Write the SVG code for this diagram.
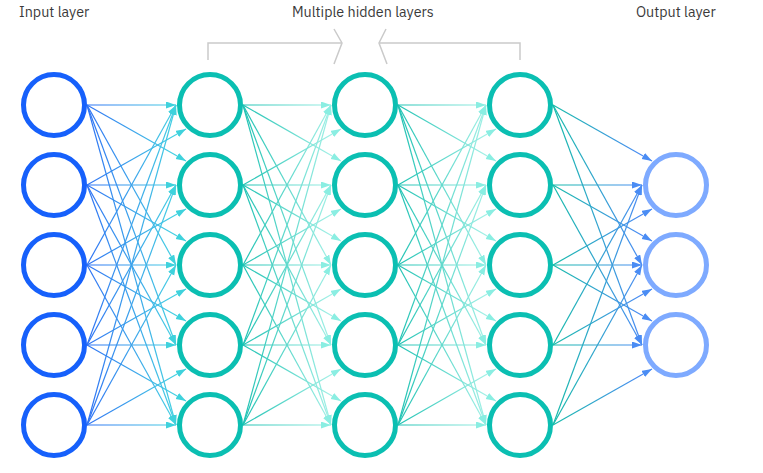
<svg xmlns="http://www.w3.org/2000/svg" width="763" height="473" viewBox="0 0 763 473">
<style>
.lbl{font-family:"IBM Plex Sans","Noto Sans","Liberation Sans",sans-serif;font-size:14.3px;fill:#3a3a3a}
.br{fill:none;stroke:#cacaca;stroke-width:1.5}
.n{fill:#fff;stroke-width:5}
.in{stroke:#1660fb}
.hd{stroke:#0bbfb2}
.out{stroke:#7eaaff}
.l1 line{stroke:url(#g1);marker-end:url(#a1)}
.l2 line{stroke:url(#g2);marker-end:url(#a2)}
.l3 line{stroke:url(#g3);marker-end:url(#a3)}
.l4 line{stroke:url(#g4);marker-end:url(#a4)}
line{stroke-width:1.2;fill:none}
</style>
<defs>
<linearGradient id="g1" gradientUnits="userSpaceOnUse" x1="87" y1="0" x2="176" y2="0"><stop offset="0" stop-color="#2f72f4"/><stop offset="1" stop-color="#45d2e2"/></linearGradient>
<linearGradient id="g2" gradientUnits="userSpaceOnUse" x1="243" y1="0" x2="331" y2="0"><stop offset="0" stop-color="#1fc2b3"/><stop offset="1" stop-color="#a2f0e6"/></linearGradient>
<linearGradient id="g3" gradientUnits="userSpaceOnUse" x1="398" y1="0" x2="486" y2="0"><stop offset="0" stop-color="#1fc2b3"/><stop offset="1" stop-color="#a2f0e6"/></linearGradient>
<linearGradient id="g4" gradientUnits="userSpaceOnUse" x1="553" y1="0" x2="642" y2="0"><stop offset="0" stop-color="#17bcaa"/><stop offset="1" stop-color="#4a8af4"/></linearGradient>
<marker id="a1" markerUnits="userSpaceOnUse" markerWidth="10" markerHeight="8" refX="10" refY="3.5" orient="auto"><path d="M0,0 L10,3.5 L0,7 Z" fill="#3fd2dc"/></marker>
<marker id="a2" markerUnits="userSpaceOnUse" markerWidth="10" markerHeight="8" refX="10" refY="3.5" orient="auto"><path d="M0,0 L10,3.5 L0,7 Z" fill="#8aeee2"/></marker>
<marker id="a3" markerUnits="userSpaceOnUse" markerWidth="10" markerHeight="8" refX="10" refY="3.5" orient="auto"><path d="M0,0 L10,3.5 L0,7 Z" fill="#8aeee2"/></marker>
<marker id="a4" markerUnits="userSpaceOnUse" markerWidth="10" markerHeight="8" refX="10" refY="3.5" orient="auto"><path d="M0,0 L10,3.5 L0,7 Z" fill="#4a8cf4"/></marker>
</defs>
<rect width="763" height="473" fill="#fff"/>
<g id="labels">
<text class="lbl" x="19" y="17">Input layer</text>
<text class="lbl" x="292" y="17">Multiple hidden layers</text>
<text class="lbl" x="636" y="17">Output layer</text>
</g>
<g id="bracket">
<path class="br" d="M208,60 V43 H341 M334,29 L342,43 L334,64"/>
<path class="br" d="M520,60 V43 H380 M386,29 L379,43 L387,64"/>
</g>
<g id="connectors">
<g class="l1">
<line x1="87" y1="105" x2="176" y2="105"/><line x1="87" y1="105" x2="186" y2="161"/><line x1="87" y1="105" x2="176" y2="265"/><line x1="87" y1="105" x2="176" y2="345"/><line x1="87" y1="105" x2="176" y2="425"/>
<line x1="87" y1="185" x2="186" y2="129"/><line x1="87" y1="185" x2="176" y2="185"/><line x1="87" y1="185" x2="186" y2="241"/><line x1="87" y1="185" x2="176" y2="345"/><line x1="87" y1="185" x2="176" y2="425"/>
<line x1="87" y1="265" x2="176" y2="105"/><line x1="87" y1="265" x2="186" y2="209"/><line x1="87" y1="265" x2="176" y2="265"/><line x1="87" y1="265" x2="186" y2="321"/><line x1="87" y1="265" x2="176" y2="425"/>
<line x1="87" y1="345" x2="176" y2="105"/><line x1="87" y1="345" x2="176" y2="185"/><line x1="87" y1="345" x2="186" y2="289"/><line x1="87" y1="345" x2="176" y2="345"/><line x1="87" y1="345" x2="186" y2="401"/>
<line x1="87" y1="425" x2="176" y2="105"/><line x1="87" y1="425" x2="176" y2="185"/><line x1="87" y1="425" x2="176" y2="265"/><line x1="87" y1="425" x2="186" y2="369"/><line x1="87" y1="425" x2="176" y2="425"/>
</g>
<g class="l2">
<line x1="243" y1="105" x2="331" y2="105"/><line x1="243" y1="105" x2="341" y2="161"/><line x1="243" y1="105" x2="331" y2="265"/><line x1="243" y1="105" x2="331" y2="345"/><line x1="243" y1="105" x2="331" y2="425"/>
<line x1="243" y1="185" x2="341" y2="129"/><line x1="243" y1="185" x2="331" y2="185"/><line x1="243" y1="185" x2="341" y2="241"/><line x1="243" y1="185" x2="331" y2="345"/><line x1="243" y1="185" x2="331" y2="425"/>
<line x1="243" y1="265" x2="331" y2="105"/><line x1="243" y1="265" x2="341" y2="209"/><line x1="243" y1="265" x2="331" y2="265"/><line x1="243" y1="265" x2="341" y2="321"/><line x1="243" y1="265" x2="331" y2="425"/>
<line x1="243" y1="345" x2="331" y2="105"/><line x1="243" y1="345" x2="331" y2="185"/><line x1="243" y1="345" x2="341" y2="289"/><line x1="243" y1="345" x2="331" y2="345"/><line x1="243" y1="345" x2="341" y2="401"/>
<line x1="243" y1="425" x2="331" y2="105"/><line x1="243" y1="425" x2="331" y2="185"/><line x1="243" y1="425" x2="331" y2="265"/><line x1="243" y1="425" x2="341" y2="369"/><line x1="243" y1="425" x2="331" y2="425"/>
</g>
<g class="l3">
<line x1="398" y1="105" x2="486" y2="105"/><line x1="398" y1="105" x2="496" y2="161"/><line x1="398" y1="105" x2="486" y2="265"/><line x1="398" y1="105" x2="486" y2="345"/><line x1="398" y1="105" x2="486" y2="425"/>
<line x1="398" y1="185" x2="496" y2="129"/><line x1="398" y1="185" x2="486" y2="185"/><line x1="398" y1="185" x2="496" y2="241"/><line x1="398" y1="185" x2="486" y2="345"/><line x1="398" y1="185" x2="486" y2="425"/>
<line x1="398" y1="265" x2="486" y2="105"/><line x1="398" y1="265" x2="496" y2="209"/><line x1="398" y1="265" x2="486" y2="265"/><line x1="398" y1="265" x2="496" y2="321"/><line x1="398" y1="265" x2="486" y2="425"/>
<line x1="398" y1="345" x2="486" y2="105"/><line x1="398" y1="345" x2="486" y2="185"/><line x1="398" y1="345" x2="496" y2="289"/><line x1="398" y1="345" x2="486" y2="345"/><line x1="398" y1="345" x2="496" y2="401"/>
<line x1="398" y1="425" x2="486" y2="105"/><line x1="398" y1="425" x2="486" y2="185"/><line x1="398" y1="425" x2="486" y2="265"/><line x1="398" y1="425" x2="496" y2="369"/><line x1="398" y1="425" x2="486" y2="425"/>
</g>
<g class="l4">
<line x1="553" y1="105" x2="652" y2="161"/><line x1="553" y1="105" x2="642" y2="265"/><line x1="553" y1="105" x2="642" y2="345"/>
<line x1="553" y1="185" x2="642" y2="185"/><line x1="553" y1="185" x2="652" y2="241"/><line x1="553" y1="185" x2="642" y2="345"/>
<line x1="553" y1="265" x2="652" y2="209"/><line x1="553" y1="265" x2="642" y2="265"/><line x1="553" y1="265" x2="652" y2="321"/>
<line x1="553" y1="345" x2="642" y2="185"/><line x1="553" y1="345" x2="652" y2="289"/><line x1="553" y1="345" x2="642" y2="345"/>
<line x1="553" y1="425" x2="642" y2="185"/><line x1="553" y1="425" x2="642" y2="265"/><line x1="553" y1="425" x2="652" y2="369"/>
</g>
</g>
<g id="in1"><circle class="n in" cx="54" cy="105" r="30.5"/></g>
<g id="in2"><circle class="n in" cx="54" cy="185" r="30.5"/></g>
<g id="in3"><circle class="n in" cx="54" cy="265" r="30.5"/></g>
<g id="in4"><circle class="n in" cx="54" cy="345" r="30.5"/></g>
<g id="in5"><circle class="n in" cx="54" cy="425" r="30.5"/></g>
<g id="h1a"><circle class="n hd" cx="210" cy="105" r="30.5"/></g>
<g id="h1b"><circle class="n hd" cx="210" cy="185" r="30.5"/></g>
<g id="h1c"><circle class="n hd" cx="210" cy="265" r="30.5"/></g>
<g id="h1d"><circle class="n hd" cx="210" cy="345" r="30.5"/></g>
<g id="h1e"><circle class="n hd" cx="210" cy="425" r="30.5"/></g>
<g id="h2a"><circle class="n hd" cx="365" cy="105" r="30.5"/></g>
<g id="h2b"><circle class="n hd" cx="365" cy="185" r="30.5"/></g>
<g id="h2c"><circle class="n hd" cx="365" cy="265" r="30.5"/></g>
<g id="h2d"><circle class="n hd" cx="365" cy="345" r="30.5"/></g>
<g id="h2e"><circle class="n hd" cx="365" cy="425" r="30.5"/></g>
<g id="h3a"><circle class="n hd" cx="520" cy="105" r="30.5"/></g>
<g id="h3b"><circle class="n hd" cx="520" cy="185" r="30.5"/></g>
<g id="h3c"><circle class="n hd" cx="520" cy="265" r="30.5"/></g>
<g id="h3d"><circle class="n hd" cx="520" cy="345" r="30.5"/></g>
<g id="h3e"><circle class="n hd" cx="520" cy="425" r="30.5"/></g>
<g id="o1"><circle class="n out" cx="676" cy="185" r="30.5"/></g>
<g id="o2"><circle class="n out" cx="676" cy="265" r="30.5"/></g>
<g id="o3"><circle class="n out" cx="676" cy="345" r="30.5"/></g>
</svg>
